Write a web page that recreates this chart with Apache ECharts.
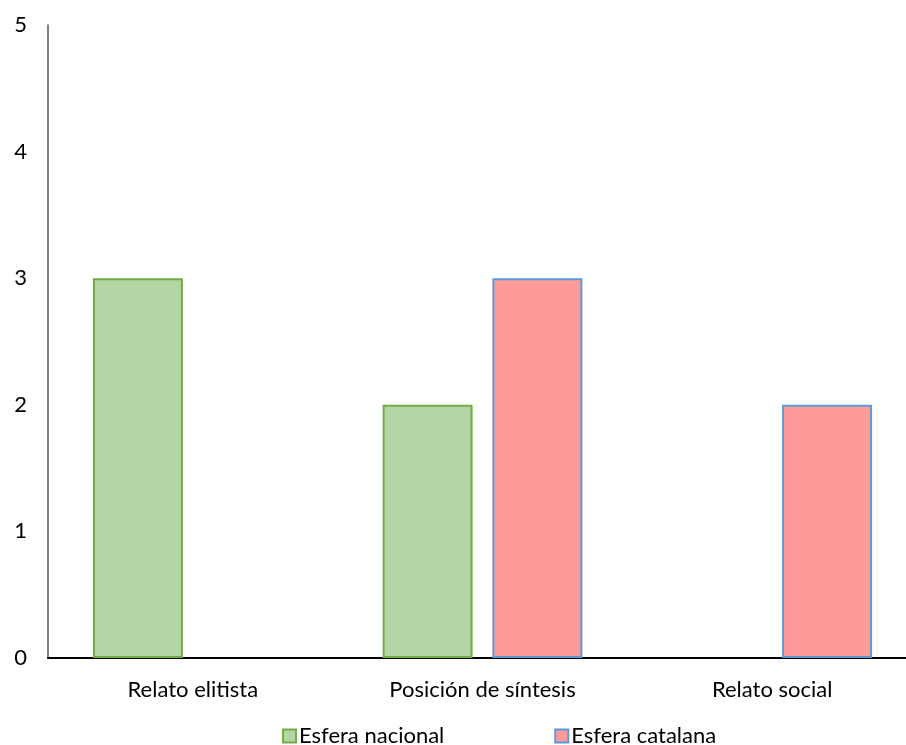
<!DOCTYPE html>
<html>
<head>
<meta charset="utf-8">
<script src="https://cdn.jsdelivr.net/npm/echarts@6/dist/echarts.min.js"></script>
<style>
  html, body { margin: 0; padding: 0; background: #fff; }
  #chart { width: 906px; height: 745px; }
</style>
</head>
<body>
<div id="chart"></div>
<script>
// Categories and values per sphere
const categories = ['Relato elitista', 'Posición de síntesis', 'Relato social'];
const esferaNacional = [3, 2, null];
const esferaCatalana = [null, 3, 2];
const yTicks = [0, 1, 2, 3, 4, 5];

const FONT = 'Lato';

const chart = echarts.init(document.getElementById('chart'));
chart.setOption({
  animation: false,
  textStyle: { fontFamily: FONT },
  // plot area runs slightly past the right edge of the canvas
  grid: { left: 48, width: 869, top: 25, height: 633, outerBoundsMode: 'none', containLabel: false },
  legend: {
    top: 720,
    left: 277,
    itemWidth: 13,
    itemHeight: 13,
    itemGap: 110,
    icon: 'rect',
    textStyle: { fontFamily: FONT, fontSize: 22, color: '#000', padding: [0, 0, 0, -2] },
    data: ['Esfera nacional', 'Esfera catalana']
  },
  xAxis: {
    type: 'category',
    data: categories,
    axisLine: { lineStyle: { color: '#000', width: 2 } },
    axisTick: { show: false },
    axisLabel: { color: '#000', fontSize: 22, margin: 21, fontFamily: FONT }
  },
  yAxis: {
    type: 'value',
    min: yTicks[0],
    max: yTicks[yTicks.length - 1],
    interval: 1,
    axisLine: { show: true, lineStyle: { color: '#595959', width: 1.5 } },
    axisTick: { show: false },
    splitLine: { show: false },
    axisLabel: { color: '#000', fontSize: 22, margin: 21, fontFamily: FONT }
  },
  series: [
    {
      name: 'Esfera nacional',
      type: 'bar',
      data: esferaNacional,
      barWidth: 90,
      barGap: '22%',
      itemStyle: { color: '#b4d5a4', borderColor: '#70ad47', borderWidth: 2 }
    },
    {
      name: 'Esfera catalana',
      type: 'bar',
      data: esferaCatalana,
      barWidth: 90,
      barGap: '22%',
      itemStyle: { color: '#ff9a9a', borderColor: '#5b9bd5', borderWidth: 2 }
    }
  ]
});
</script>
</body>
</html>
